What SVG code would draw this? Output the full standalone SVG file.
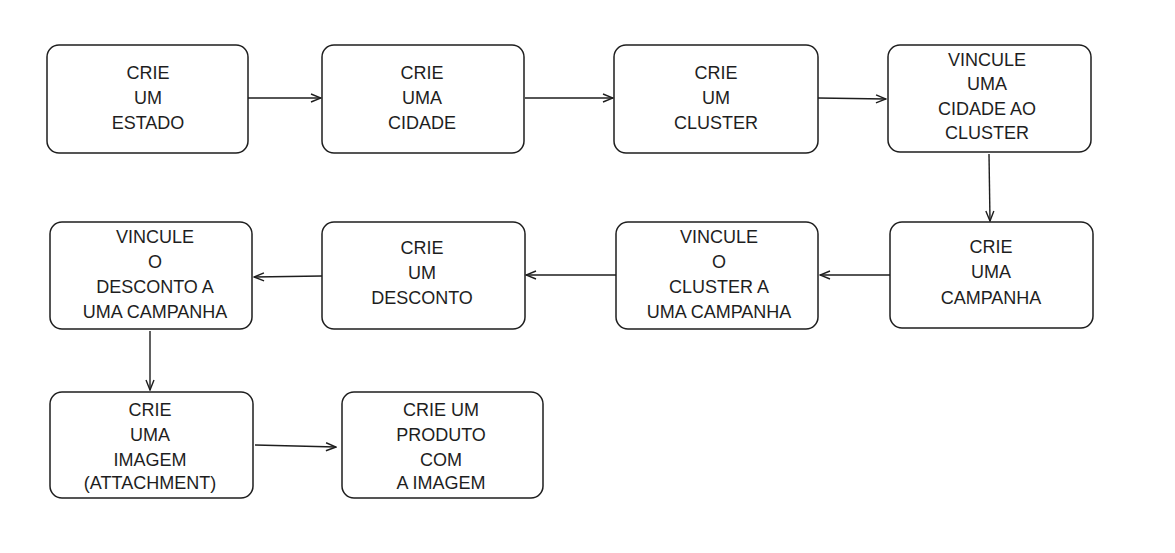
<svg xmlns="http://www.w3.org/2000/svg" width="1175" height="553" viewBox="0 0 1175 553">
<defs>
<style>
.box{fill:#ffffff;stroke:#1e1e1e;stroke-width:1.5}
.t{font-family:"Liberation Sans",Arial,sans-serif;font-size:18px;fill:#1e1e1e;text-anchor:middle;dominant-baseline:central}
.c{fill:none;stroke:#1e1e1e;stroke-width:1.4}
</style>
<marker id="ah" viewBox="0 0 12 12" refX="11" refY="6" markerWidth="12" markerHeight="12" markerUnits="userSpaceOnUse" orient="auto">
<path d="M1,2 L11,6 L1,10" fill="none" stroke="#1e1e1e" stroke-width="1.4"/>
</marker>
</defs>
<rect width="1175" height="553" fill="#ffffff"/>
<g id="connectors">
<path class="c" d="M248,98 L321,98" marker-end="url(#ah)"/>
<path class="c" d="M525,98 L613,98" marker-end="url(#ah)"/>
<path class="c" d="M818,98 L886,99" marker-end="url(#ah)"/>
<path class="c" d="M989,154 L990,221" marker-end="url(#ah)"/>
<path class="c" d="M890,275 L820,275" marker-end="url(#ah)"/>
<path class="c" d="M616,275 L526,275" marker-end="url(#ah)"/>
<path class="c" d="M322,276 L254,277" marker-end="url(#ah)"/>
<path class="c" d="M150,331 L150,390" marker-end="url(#ah)"/>
<path class="c" d="M255,445 L336,447" marker-end="url(#ah)"/>
</g>
<g id="n1"><rect class="box" x="47" y="45" width="201" height="108" rx="12"/>
<text class="t"><tspan x="148" y="73">CRIE</tspan><tspan x="148" y="98">UM</tspan><tspan x="148" y="123">ESTADO</tspan></text></g>
<g id="n2"><rect class="box" x="322" y="45" width="202" height="108" rx="12"/>
<text class="t"><tspan x="422" y="73">CRIE</tspan><tspan x="422" y="98">UMA</tspan><tspan x="422" y="123">CIDADE</tspan></text></g>
<g id="n3"><rect class="box" x="614" y="45" width="204" height="108" rx="12"/>
<text class="t"><tspan x="716" y="73">CRIE</tspan><tspan x="716" y="98">UM</tspan><tspan x="716" y="123">CLUSTER</tspan></text></g>
<g id="n4"><rect class="box" x="888" y="45" width="203" height="107" rx="12"/>
<text class="t"><tspan x="987" y="60">VINCULE</tspan><tspan x="987" y="84">UMA</tspan><tspan x="987" y="109">CIDADE AO</tspan><tspan x="987" y="133">CLUSTER</tspan></text></g>
<g id="n8"><rect class="box" x="890" y="222" width="203" height="106" rx="12"/>
<text class="t"><tspan x="991" y="247">CRIE</tspan><tspan x="991" y="272">UMA</tspan><tspan x="991" y="298">CAMPANHA</tspan></text></g>
<g id="n7"><rect class="box" x="616" y="222" width="202" height="107" rx="12"/>
<text class="t"><tspan x="719" y="237">VINCULE</tspan><tspan x="719" y="262">O</tspan><tspan x="719" y="287">CLUSTER A</tspan><tspan x="719" y="312">UMA CAMPANHA</tspan></text></g>
<g id="n6"><rect class="box" x="322" y="222" width="203" height="107" rx="12"/>
<text class="t"><tspan x="422" y="248">CRIE</tspan><tspan x="422" y="273">UM</tspan><tspan x="422" y="298">DESCONTO</tspan></text></g>
<g id="n5"><rect class="box" x="50" y="222" width="202" height="107" rx="12"/>
<text class="t"><tspan x="155" y="237">VINCULE</tspan><tspan x="155" y="262">O</tspan><tspan x="155" y="287">DESCONTO A</tspan><tspan x="155" y="312">UMA CAMPANHA</tspan></text></g>
<g id="n9"><rect class="box" x="50" y="392" width="203" height="106" rx="12"/>
<text class="t"><tspan x="150" y="410">CRIE</tspan><tspan x="150" y="435">UMA</tspan><tspan x="150" y="460">IMAGEM</tspan><tspan x="150" y="483">(ATTACHMENT)</tspan></text></g>
<g id="n10"><rect class="box" x="342" y="392" width="201" height="106" rx="12"/>
<text class="t"><tspan x="441" y="410">CRIE UM</tspan><tspan x="441" y="435">PRODUTO</tspan><tspan x="441" y="460">COM</tspan><tspan x="441" y="483">A IMAGEM</tspan></text></g>
</svg>
